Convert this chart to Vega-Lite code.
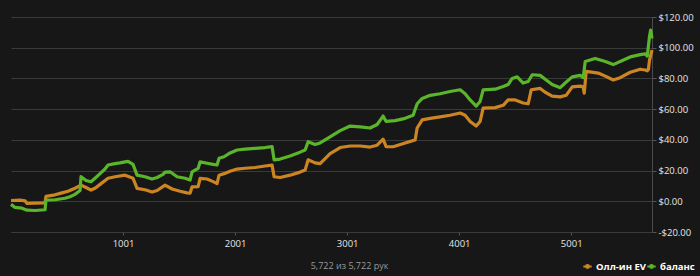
{
  "$schema": "https://vega.github.io/schema/vega-lite/v6.json",
  "width": 641,
  "height": 215,
  "autosize": {"type": "none"},
  "padding": {"left": 11, "top": 17, "right": 48, "bottom": 44},
  "background": "#171717",
  "config": {
    "view": {"stroke": null},
    "font": "Open Sans"
  },
  "data": {
    "values": [
      {"hand":1,"value":0.5,"series":"Олл-ин EV"},{"hand":81,"value":0.7,"series":"Олл-ин EV"},{"hand":126,"value":0.3,"series":"Олл-ин EV"},{"hand":144,"value":-1.4,"series":"Олл-ин EV"},{"hand":215,"value":-1.2,"series":"Олл-ин EV"},{"hand":305,"value":-1,"series":"Олл-ин EV"},{"hand":313,"value":3.2,"series":"Олл-ин EV"},{"hand":394,"value":4.2,"series":"Олл-ин EV"},{"hand":456,"value":5.5,"series":"Олл-ин EV"},{"hand":510,"value":6.5,"series":"Олл-ин EV"},{"hand":572,"value":8.5,"series":"Олл-ин EV"},{"hand":626,"value":10.5,"series":"Олл-ин EV"},{"hand":671,"value":9,"series":"Олл-ин EV"},{"hand":715,"value":7.3,"series":"Олл-ин EV"},{"hand":751,"value":8.5,"series":"Олл-ин EV"},{"hand":796,"value":11,"series":"Олл-ин EV"},{"hand":867,"value":15,"series":"Олл-ин EV"},{"hand":930,"value":16,"series":"Олл-ин EV"},{"hand":1019,"value":17,"series":"Олл-ин EV"},{"hand":1090,"value":15,"series":"Олл-ин EV"},{"hand":1126,"value":8.4,"series":"Олл-ин EV"},{"hand":1197,"value":7.5,"series":"Олл-ин EV"},{"hand":1260,"value":6,"series":"Олл-ин EV"},{"hand":1305,"value":7,"series":"Олл-ин EV"},{"hand":1376,"value":10.5,"series":"Олл-ин EV"},{"hand":1439,"value":8,"series":"Олл-ин EV"},{"hand":1510,"value":6.5,"series":"Олл-ин EV"},{"hand":1572,"value":5.5,"series":"Олл-ин EV"},{"hand":1599,"value":5.3,"series":"Олл-ин EV"},{"hand":1617,"value":9.4,"series":"Олл-ин EV"},{"hand":1671,"value":9.5,"series":"Олл-ин EV"},{"hand":1689,"value":14.9,"series":"Олл-ин EV"},{"hand":1751,"value":14.5,"series":"Олл-ин EV"},{"hand":1805,"value":12.8,"series":"Олл-ин EV"},{"hand":1840,"value":11.6,"series":"Олл-ин EV"},{"hand":1858,"value":17,"series":"Олл-ин EV"},{"hand":1903,"value":18,"series":"Олл-ин EV"},{"hand":1956,"value":19.5,"series":"Олл-ин EV"},{"hand":2019,"value":21,"series":"Олл-ин EV"},{"hand":2090,"value":21.5,"series":"Олл-ин EV"},{"hand":2180,"value":22,"series":"Олл-ин EV"},{"hand":2269,"value":23,"series":"Олл-ин EV"},{"hand":2331,"value":23.6,"series":"Олл-ин EV"},{"hand":2349,"value":16,"series":"Олл-ин EV"},{"hand":2403,"value":15.5,"series":"Олл-ин EV"},{"hand":2492,"value":17,"series":"Олл-ин EV"},{"hand":2581,"value":19,"series":"Олл-ин EV"},{"hand":2626,"value":20.3,"series":"Олл-ин EV"},{"hand":2653,"value":27,"series":"Олл-ин EV"},{"hand":2715,"value":25,"series":"Олл-ин EV"},{"hand":2760,"value":24.5,"series":"Олл-ин EV"},{"hand":2849,"value":31,"series":"Олл-ин EV"},{"hand":2939,"value":35,"series":"Олл-ин EV"},{"hand":3028,"value":36,"series":"Олл-ин EV"},{"hand":3117,"value":36,"series":"Олл-ин EV"},{"hand":3206,"value":35.3,"series":"Олл-ин EV"},{"hand":3269,"value":36.5,"series":"Олл-ин EV"},{"hand":3322,"value":40.5,"series":"Олл-ин EV"},{"hand":3349,"value":35.6,"series":"Олл-ин EV"},{"hand":3412,"value":35.5,"series":"Олл-ин EV"},{"hand":3519,"value":38,"series":"Олл-ин EV"},{"hand":3608,"value":40,"series":"Олл-ин EV"},{"hand":3626,"value":47.7,"series":"Олл-ин EV"},{"hand":3671,"value":53,"series":"Олл-ин EV"},{"hand":3742,"value":54,"series":"Олл-ин EV"},{"hand":3831,"value":55,"series":"Олл-ин EV"},{"hand":3920,"value":56,"series":"Олл-ин EV"},{"hand":4010,"value":57.5,"series":"Олл-ин EV"},{"hand":4054,"value":56,"series":"Олл-ин EV"},{"hand":4099,"value":52,"series":"Олл-ин EV"},{"hand":4153,"value":49,"series":"Олл-ин EV"},{"hand":4188,"value":52,"series":"Олл-ин EV"},{"hand":4215,"value":60.7,"series":"Олл-ин EV"},{"hand":4322,"value":61,"series":"Олл-ин EV"},{"hand":4394,"value":62.5,"series":"Олл-ин EV"},{"hand":4438,"value":66,"series":"Олл-ин EV"},{"hand":4501,"value":66,"series":"Олл-ин EV"},{"hand":4572,"value":64,"series":"Олл-ин EV"},{"hand":4617,"value":63.5,"series":"Олл-ин EV"},{"hand":4644,"value":72.6,"series":"Олл-ин EV"},{"hand":4724,"value":73.5,"series":"Олл-ин EV"},{"hand":4769,"value":71,"series":"Олл-ин EV"},{"hand":4831,"value":68.5,"series":"Олл-ин EV"},{"hand":4903,"value":68,"series":"Олл-ин EV"},{"hand":4956,"value":69,"series":"Олл-ин EV"},{"hand":5010,"value":74.5,"series":"Олл-ин EV"},{"hand":5081,"value":75,"series":"Олл-ин EV"},{"hand":5108,"value":74.5,"series":"Олл-ин EV"},{"hand":5117,"value":70.4,"series":"Олл-ин EV"},{"hand":5135,"value":84.6,"series":"Олл-ин EV"},{"hand":5242,"value":83.5,"series":"Олл-ин EV"},{"hand":5305,"value":81.5,"series":"Олл-ин EV"},{"hand":5376,"value":79,"series":"Олл-ин EV"},{"hand":5438,"value":80.5,"series":"Олл-ин EV"},{"hand":5528,"value":84,"series":"Олл-ин EV"},{"hand":5617,"value":86,"series":"Олл-ин EV"},{"hand":5662,"value":85.5,"series":"Олл-ин EV"},{"hand":5680,"value":85,"series":"Олл-ин EV"},{"hand":5690,"value":86,"series":"Олл-ин EV"},{"hand":5700,"value":92,"series":"Олл-ин EV"},{"hand":5722,"value":98.5,"series":"Олл-ин EV"},
      {"hand":1,"value":-2,"series":"баланс"},{"hand":37,"value":-4,"series":"баланс"},{"hand":99,"value":-4.5,"series":"баланс"},{"hand":144,"value":-5.8,"series":"баланс"},{"hand":215,"value":-6,"series":"баланс"},{"hand":305,"value":-5.5,"series":"баланс"},{"hand":313,"value":0.8,"series":"баланс"},{"hand":394,"value":1,"series":"баланс"},{"hand":483,"value":2,"series":"баланс"},{"hand":528,"value":3,"series":"баланс"},{"hand":572,"value":4.5,"series":"баланс"},{"hand":617,"value":7,"series":"баланс"},{"hand":626,"value":16,"series":"баланс"},{"hand":671,"value":13.5,"series":"баланс"},{"hand":715,"value":12.7,"series":"баланс"},{"hand":751,"value":15,"series":"баланс"},{"hand":796,"value":18,"series":"баланс"},{"hand":840,"value":21,"series":"баланс"},{"hand":867,"value":23.6,"series":"баланс"},{"hand":930,"value":24.5,"series":"баланс"},{"hand":974,"value":25,"series":"баланс"},{"hand":1019,"value":25.7,"series":"баланс"},{"hand":1046,"value":26,"series":"баланс"},{"hand":1090,"value":24,"series":"баланс"},{"hand":1126,"value":17,"series":"баланс"},{"hand":1197,"value":16,"series":"баланс"},{"hand":1260,"value":14.5,"series":"баланс"},{"hand":1305,"value":15.5,"series":"баланс"},{"hand":1358,"value":17.5,"series":"баланс"},{"hand":1376,"value":19,"series":"баланс"},{"hand":1421,"value":19.2,"series":"баланс"},{"hand":1483,"value":16,"series":"баланс"},{"hand":1555,"value":15,"series":"баланс"},{"hand":1599,"value":13.8,"series":"баланс"},{"hand":1617,"value":19.2,"series":"баланс"},{"hand":1671,"value":21.4,"series":"баланс"},{"hand":1689,"value":25.7,"series":"баланс"},{"hand":1751,"value":24.8,"series":"баланс"},{"hand":1805,"value":24,"series":"баланс"},{"hand":1840,"value":23.6,"series":"баланс"},{"hand":1858,"value":28,"series":"баланс"},{"hand":1903,"value":29,"series":"баланс"},{"hand":1956,"value":31.5,"series":"баланс"},{"hand":2019,"value":33.4,"series":"баланс"},{"hand":2090,"value":34,"series":"баланс"},{"hand":2180,"value":34.5,"series":"баланс"},{"hand":2269,"value":35,"series":"баланс"},{"hand":2331,"value":35.6,"series":"баланс"},{"hand":2349,"value":27,"series":"баланс"},{"hand":2403,"value":27.5,"series":"баланс"},{"hand":2492,"value":29.5,"series":"баланс"},{"hand":2581,"value":32,"series":"баланс"},{"hand":2626,"value":33.4,"series":"баланс"},{"hand":2653,"value":38.8,"series":"баланс"},{"hand":2715,"value":37,"series":"баланс"},{"hand":2760,"value":38,"series":"баланс"},{"hand":2849,"value":42,"series":"баланс"},{"hand":2939,"value":46,"series":"баланс"},{"hand":3028,"value":49,"series":"баланс"},{"hand":3117,"value":48.5,"series":"баланс"},{"hand":3206,"value":47.7,"series":"баланс"},{"hand":3269,"value":50,"series":"баланс"},{"hand":3322,"value":55.5,"series":"баланс"},{"hand":3349,"value":52,"series":"баланс"},{"hand":3429,"value":52.5,"series":"баланс"},{"hand":3519,"value":54,"series":"баланс"},{"hand":3590,"value":56,"series":"баланс"},{"hand":3626,"value":63.5,"series":"баланс"},{"hand":3671,"value":67,"series":"баланс"},{"hand":3742,"value":69,"series":"баланс"},{"hand":3831,"value":70,"series":"баланс"},{"hand":3920,"value":71.5,"series":"баланс"},{"hand":4010,"value":72.6,"series":"баланс"},{"hand":4054,"value":70,"series":"баланс"},{"hand":4099,"value":66,"series":"баланс"},{"hand":4153,"value":62,"series":"баланс"},{"hand":4188,"value":65,"series":"баланс"},{"hand":4215,"value":72.6,"series":"баланс"},{"hand":4322,"value":73,"series":"баланс"},{"hand":4394,"value":74.7,"series":"баланс"},{"hand":4438,"value":76,"series":"баланс"},{"hand":4474,"value":80,"series":"баланс"},{"hand":4519,"value":81,"series":"баланс"},{"hand":4572,"value":77,"series":"баланс"},{"hand":4617,"value":78,"series":"баланс"},{"hand":4653,"value":82.4,"series":"баланс"},{"hand":4724,"value":82,"series":"баланс"},{"hand":4769,"value":79.5,"series":"баланс"},{"hand":4831,"value":76,"series":"баланс"},{"hand":4903,"value":74,"series":"баланс"},{"hand":4947,"value":77,"series":"баланс"},{"hand":5010,"value":81,"series":"баланс"},{"hand":5081,"value":82,"series":"баланс"},{"hand":5108,"value":80.5,"series":"баланс"},{"hand":5126,"value":91,"series":"баланс"},{"hand":5215,"value":93,"series":"баланс"},{"hand":5305,"value":91,"series":"баланс"},{"hand":5376,"value":89,"series":"баланс"},{"hand":5438,"value":91,"series":"баланс"},{"hand":5528,"value":94,"series":"баланс"},{"hand":5617,"value":95.5,"series":"баланс"},{"hand":5662,"value":96,"series":"баланс"},{"hand":5680,"value":94.5,"series":"баланс"},{"hand":5690,"value":101,"series":"баланс"},{"hand":5700,"value":107.5,"series":"баланс"},{"hand":5710,"value":111.5,"series":"баланс"},{"hand":5722,"value":106,"series":"баланс"}
    ]
  },
  "mark": {"type": "line", "strokeWidth": 3.2, "strokeJoin": "round"},
  "encoding": {
    "x": {
      "field": "hand", "type": "quantitative",
      "scale": {"domain": [1, 5722], "nice": false, "zero": false},
      "axis": {
        "values": [1001, 2001, 3001, 4001, 5001],
        "format": "d",
        "grid": false,
        "domain": true, "domainColor": "#3a3a3a",
        "tickColor": "#555555", "tickSize": 3,
        "labelColor": "#e6e6e6", "labelFontSize": 9.5, "labelPadding": 3,
        "title": "5,722 из 5,722 рук",
        "titleColor": "#9a9a9a", "titleFontWeight": "normal", "titleFontSize": 9,
        "titleX": 338, "titlePadding": 14
      }
    },
    "y": {
      "field": "value", "type": "quantitative",
      "scale": {"domain": [-20, 120], "nice": false, "zero": false},
      "axis": {
        "orient": "right",
        "values": [-20, 0, 20, 40, 60, 80, 100, 120],
        "labelExpr": "datum.value < 0 ? '-$' + format(-datum.value, '.2f') : '$' + format(datum.value, '.2f')",
        "grid": true, "gridColor": "#3a3a3a", "gridWidth": 1.2,
        "domain": true, "domainColor": "#4a4a4a",
        "tickColor": "#555555", "tickSize": 4,
        "labelColor": "#e6e6e6", "labelFontSize": 9.5, "labelPadding": 2,
        "title": null
      }
    },
    "color": {
      "field": "series", "type": "nominal",
      "scale": {"domain": ["Олл-ин EV", "баланс"], "range": ["#cc8522", "#5ab52a"]},
      "legend": {
        "title": null,
        "orient": "none", "direction": "horizontal",
        "legendX": 571, "legendY": 244,
        "labelColor": "#ffffff", "labelFontSize": 9.5, "labelFontWeight": "bold",
        "symbolType": "M-1,0H1M-0.35,0A0.35,0.35 0 1,0 0.35,0A0.35,0.35 0 1,0 -0.35,0",
        "symbolStrokeWidth": 2, "symbolSize": 70,
        "columnPadding": -6, "labelOffset": 3, "padding": 0
      }
    }
  }
}
